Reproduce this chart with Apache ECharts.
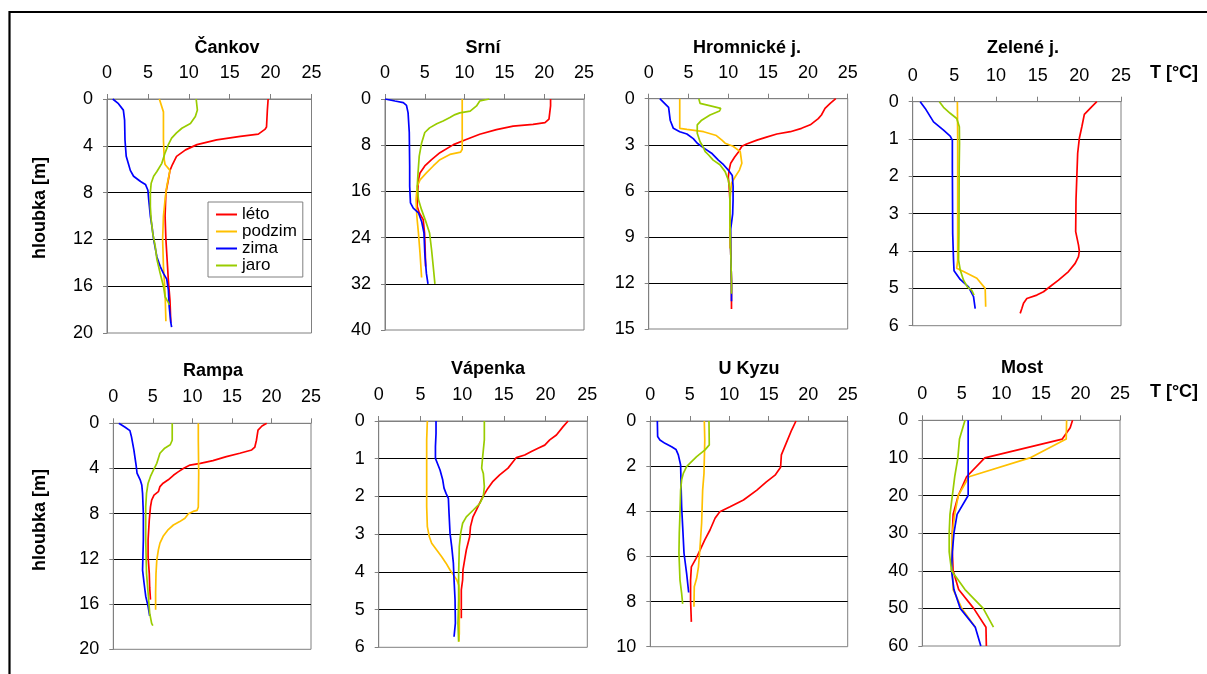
<!DOCTYPE html>
<html>
<head>
<meta charset="utf-8">
<script src="https://cdn.jsdelivr.net/npm/echarts@6/dist/echarts.min.js"></script>
<style>
html,body{margin:0;padding:0;background:#fff;}
#main{width:1207px;height:674px;}
</style>
</head>
<body>
<div id="main"></div>
<script>
// ---------- DATA ----------
const seasons = ['léto', 'podzim', 'zima', 'jaro'];
const lakes = ['Čankov', 'Srní', 'Hromnické j.', 'Zelené j.', 'Rampa', 'Vápenka', 'U Kyzu', 'Most'];
const tempTicks = [0, 5, 10, 15, 20, 25];
const depthMax = [20, 40, 15, 6, 20, 6, 10, 60];
const depthStep = [4, 8, 3, 1, 4, 1, 2, 10];
const xAxisName = 'T [°C]';
const yAxisName = 'hloubka [m]';

// each point: [temperature °C, depth m]
const cankov_leto = [[19.7,0],[19.6,1],[19.5,2.4],[19.3,2.6],[18.5,3.0],[16.3,3.2],[13.4,3.5],[11.0,3.9],[9.6,4.35],[8.5,4.9],[8.0,5.6],[7.7,6.1],[7.5,6.9],[7.2,8.0],[7.1,10.0],[7.2,12.0],[7.4,14.3],[7.5,15.5],[7.7,17.2],[7.8,19.1]];
const cankov_podzim = [[6.4,0],[6.9,1.1],[6.9,3.5],[7.0,5.2],[7.1,5.6],[7.7,6.1],[7.3,7.5],[7.1,8.6],[6.9,10.0],[6.8,12.0],[6.9,14.3],[7.1,16.6],[7.2,19.0]];
const cankov_zima = [[0.7,0],[1.4,0.4],[2.0,0.95],[2.15,1.8],[2.2,3.5],[2.35,4.9],[2.6,5.5],[2.85,6.1],[3.25,6.6],[4.1,7.05],[4.7,7.3],[5.0,7.8],[5.1,8.6],[5.3,10.0],[5.5,10.9],[5.7,12.0],[6.1,13.5],[6.5,14.3],[6.9,14.9],[7.3,15.4],[7.5,16.3],[7.6,17.7],[7.8,19.1],[7.9,19.5]];
const cankov_jaro = [[10.9,0],[11.05,0.95],[10.8,1.5],[10.2,2.1],[9.15,2.5],[8.5,2.9],[7.9,3.35],[7.5,3.9],[7.1,4.6],[6.7,5.5],[6.1,6.2],[5.7,6.6],[5.4,7.2],[5.3,8.0],[5.3,9.2],[5.4,10.3],[5.6,11.5],[5.9,12.6],[6.1,13.7],[6.5,14.9],[6.9,16.0],[7.1,16.9],[7.5,17.4],[7.6,17.6]];

const srni_leto = [[20.8,0],[20.8,1.2],[20.6,3.5],[20.1,4.1],[18.6,4.4],[16.1,4.7],[14.0,5.3],[11.9,6.1],[10.2,7.0],[8.6,7.9],[6.9,9.3],[5.85,10.5],[5.0,11.6],[4.4,12.8],[4.2,14.0],[4.05,17.4],[4.05,18.6],[4.3,19.7],[4.8,20.9],[4.97,23.2],[5.06,26.7],[5.1,29.0]];
const srni_podzim = [[9.7,0],[9.7,8.7],[9.5,9.2],[8.15,9.6],[6.9,10.5],[6.06,11.6],[5.2,12.8],[4.4,14.0],[4.05,15.1],[3.9,17.4],[4.0,20.3],[4.2,23.2],[4.4,26.7],[4.6,30.9]];
const srni_zima = [[0,0],[1.25,0.35],[2.3,0.64],[2.7,1.1],[2.9,2.4],[3.05,5.8],[3.1,11.6],[3.1,15.1],[3.2,18.0],[3.55,18.9],[4.2,19.7],[4.6,21.2],[4.9,23.2],[5.0,26.7],[5.2,30.2],[5.4,32.0]];
const srni_jaro = [[13.1,0],[11.9,0.35],[11.5,1.2],[10.7,2.1],[9.4,2.4],[8.8,2.7],[8.15,3.2],[7.3,3.8],[6.5,4.3],[5.6,5.0],[5.0,5.8],[4.6,7.6],[4.3,9.9],[4.15,12.8],[4.05,15.1],[4.2,17.4],[4.6,19.2],[5.2,21.5],[5.6,23.2],[5.85,26.1],[6.06,29.0],[6.27,32.0]];

const hrom_leto = [[23.5,0],[22.8,0.3],[22.15,0.63],[21.7,1.06],[21.3,1.3],[20.3,1.7],[19.2,1.93],[17.8,2.15],[16.1,2.3],[14.8,2.5],[13.6,2.7],[12.3,2.95],[11.7,3.1],[11.3,3.45],[10.8,3.8],[10.3,4.2],[10.1,4.65],[10.0,5.1],[10.1,5.7],[10.2,6.6],[10.2,7.7],[10.3,9.85],[10.4,12.0],[10.4,13.7]];
const hrom_podzim = [[3.9,0],[3.9,1.93],[4.8,2.0],[6.9,2.15],[8.5,2.4],[9.2,2.7],[9.6,2.9],[10.6,3.1],[11.5,3.45],[11.7,4.2],[11.4,4.65],[10.85,5.1],[10.4,5.5],[10.2,6.6],[10.2,8.8],[10.2,9.75]];
const hrom_zima = [[1.4,0],[2.5,0.56],[2.7,1.4],[3.1,1.93],[3.9,2.15],[4.8,2.3],[5.6,2.6],[6.1,2.9],[6.9,3.2],[7.9,3.55],[8.75,4.0],[9.4,4.3],[10.0,4.65],[10.5,5.0],[10.6,5.7],[10.6,6.6],[10.55,7.5],[10.3,8.5],[10.3,9.85],[10.4,12.0],[10.4,13.2]];
const hrom_jaro = [[6.3,0],[6.45,0.3],[7.9,0.48],[9.05,0.63],[8.9,0.8],[7.7,1.06],[6.65,1.4],[6.1,1.7],[6.1,2.25],[6.45,2.8],[6.8,3.1],[7.1,3.45],[7.5,3.65],[8.1,4.0],[8.95,4.3],[9.6,4.75],[10.0,5.3],[10.2,5.9],[10.2,7.7],[10.3,9.85],[10.4,12.0],[10.4,12.7]];

const zel_leto = [[22.1,0],[21.5,0.13],[20.6,0.34],[20.3,0.67],[20.0,0.98],[19.8,1.38],[19.7,2.0],[19.6,2.63],[19.56,3.48],[19.9,3.84],[20.0,4.0],[19.9,4.15],[19.5,4.33],[18.7,4.55],[17.5,4.78],[16.5,4.95],[15.7,5.09],[14.9,5.18],[13.7,5.27],[13.3,5.4],[13.1,5.54],[12.9,5.67]];
const zel_podzim = [[5.36,0],[5.4,1.0],[5.4,2.5],[5.4,4.24],[5.28,4.46],[6.1,4.55],[7.7,4.73],[8.7,5.0],[8.76,5.49]];
const zel_zima = [[0.9,0],[1.5,0.18],[2.5,0.54],[3.7,0.76],[4.5,0.92],[4.76,1.03],[4.76,1.74],[4.8,3.53],[4.9,4.24],[4.96,4.53],[5.7,4.76],[6.7,4.96],[7.3,5.22],[7.5,5.54]];
const zel_jaro = [[3.2,0],[3.7,0.15],[4.5,0.31],[5.28,0.45],[5.6,0.67],[5.62,1.12],[5.58,1.74],[5.55,3.53],[5.5,4.24],[5.7,4.5],[6.1,4.78],[6.56,4.96],[7.1,5.06],[7.36,5.18]];

const rampa_leto = [[19.4,0],[18.8,0.24],[18.3,0.6],[18.1,1.5],[17.9,2.1],[17.5,2.36],[16.0,2.65],[14.3,2.95],[12.6,3.3],[11.0,3.54],[9.7,3.7],[8.85,4.0],[8.2,4.3],[7.6,4.6],[6.95,5.0],[6.3,5.3],[5.9,5.6],[5.7,6.05],[5.15,6.35],[4.85,6.8],[4.7,7.4],[4.55,8.55],[4.4,10.3],[4.4,11.8],[4.55,13.3],[4.6,14.5],[4.7,15.6]];
const rampa_podzim = [[10.75,0],[10.75,1.5],[10.8,4.4],[10.75,7.4],[10.6,7.7],[10.1,7.8],[9.5,8.0],[9.06,8.4],[8.4,8.7],[7.6,9.0],[6.95,9.4],[6.3,10.0],[5.9,10.6],[5.7,11.2],[5.5,12.1],[5.4,13.3],[5.35,15.0],[5.35,16.5]];
const rampa_zima = [[0.7,0],[1.5,0.35],[2.1,0.65],[2.3,1.2],[2.6,2.36],[2.9,3.8],[3.0,4.4],[3.4,5.0],[3.6,5.45],[3.7,6.2],[3.8,8.0],[3.8,10.3],[3.7,13.0],[3.9,14.2],[4.1,15.3],[4.4,16.2],[4.6,17.05]];
const rampa_jaro = [[7.45,0],[7.45,1.5],[7.2,1.9],[6.5,2.2],[5.9,2.65],[5.5,3.54],[5.1,4.1],[4.7,4.7],[4.4,5.3],[4.2,6.2],[4.1,7.4],[4.1,10.3],[4.2,13.3],[4.4,15.0],[4.6,16.8],[4.85,17.7],[5.0,17.9]];

const vap_leto = [[22.7,0],[22.1,0.15],[21.3,0.37],[20.5,0.5],[19.9,0.64],[19.1,0.72],[18.3,0.81],[17.5,0.9],[16.5,0.97],[16.1,1.08],[15.5,1.25],[14.5,1.43],[13.7,1.6],[13.1,1.78],[12.5,2.0],[12.1,2.18],[11.7,2.36],[11.3,2.54],[11.0,2.8],[10.9,3.07],[10.5,3.42],[10.3,3.68],[10.1,3.95],[10.06,4.21],[9.9,4.48],[9.9,4.83],[9.9,5.23]];
const vap_podzim = [[5.83,0],[5.75,0.5],[5.75,1.39],[5.75,2.27],[5.83,2.8],[6.07,3.07],[6.35,3.24],[6.95,3.42],[7.55,3.6],[8.07,3.77],[8.55,3.95],[8.95,4.08],[9.35,4.21],[9.6,4.35],[9.66,4.92],[9.66,5.63],[9.6,5.85]];
const vap_zima = [[6.87,0],[6.87,0.33],[6.8,0.68],[6.8,0.99],[7.03,1.12],[7.35,1.3],[7.67,1.56],[7.83,1.78],[8.07,1.92],[8.35,2.05],[8.43,2.45],[8.55,2.98],[8.75,3.33],[8.95,3.77],[9.03,4.21],[9.15,4.74],[9.19,5.36],[9.03,5.72]];
const vap_jaro = [[12.66,0],[12.66,0.5],[12.46,0.95],[12.34,1.25],[12.54,1.39],[12.66,1.74],[12.54,2.0],[12.14,2.18],[11.34,2.36],[10.5,2.54],[10.06,2.71],[9.82,2.98],[9.66,3.33],[9.58,4.04],[9.58,4.74],[9.5,5.36],[9.58,5.85]];

const kyzu_leto = [[18.45,0],[17.9,0.4],[17.2,0.99],[16.6,1.5],[16.5,2.05],[15.8,2.4],[14.7,2.7],[13.5,3.06],[11.8,3.5],[10.1,3.8],[8.8,4.02],[8.2,4.31],[7.56,4.83],[6.9,5.27],[6.3,5.72],[5.8,6.09],[5.2,6.46],[5.1,7.05],[5.1,7.93],[5.2,8.9]];
const kyzu_podzim = [[6.84,0],[6.9,0.84],[6.8,2.32],[6.63,3.06],[6.5,4.53],[6.3,5.57],[6.1,6.46],[5.87,6.97],[5.57,7.34],[5.53,8.23]];
const kyzu_zima = [[0.89,0],[0.93,0.69],[1.22,0.84],[1.86,0.99],[2.7,1.14],[3.25,1.26],[3.55,1.5],[3.84,1.95],[3.9,2.9],[3.97,3.8],[4.1,4.68],[4.27,5.86],[4.6,6.75],[4.86,7.6]];
const kyzu_jaro = [[7.43,0],[7.47,1.06],[6.93,1.28],[5.87,1.58],[5.0,1.88],[4.6,2.02],[4.18,2.32],[3.97,2.61],[3.84,3.06],[3.76,4.09],[3.67,4.98],[3.63,5.86],[3.76,7.05],[3.97,7.64],[4.1,8.1]];

const most_leto = [[19.0,0],[18.7,2],[17.7,5],[7.9,10],[5.6,15],[4.55,20],[3.9,25],[3.8,30],[3.8,35],[3.9,40],[4.6,45],[6.5,50],[8.05,55],[8.1,60]];
const most_podzim = [[18.25,0],[18.2,5],[13.6,10],[5.9,15],[4.55,20],[4.1,25],[3.8,30],[3.7,35],[3.8,40],[3.9,45],[5.0,50],[6.7,55]];
const most_zima = [[5.8,0],[5.8,5],[5.8,10],[5.8,15],[5.8,20],[4.4,25],[4.0,30],[3.8,35],[3.7,40],[4.0,45],[4.8,50],[6.7,55],[7.4,60]];
const most_jaro = [[5.4,0],[4.7,5],[4.5,10],[4.1,15],[3.8,20],[3.5,25],[3.4,30],[3.4,35],[3.7,40],[5.4,45],[7.7,50],[9.0,55]];

const profiles = [
  [cankov_leto, cankov_podzim, cankov_zima, cankov_jaro],
  [srni_leto, srni_podzim, srni_zima, srni_jaro],
  [hrom_leto, hrom_podzim, hrom_zima, hrom_jaro],
  [zel_leto, zel_podzim, zel_zima, zel_jaro],
  [rampa_leto, rampa_podzim, rampa_zima, rampa_jaro],
  [vap_leto, vap_podzim, vap_zima, vap_jaro],
  [kyzu_leto, kyzu_podzim, kyzu_zima, kyzu_jaro],
  [most_leto, most_podzim, most_zima, most_jaro]
];

// ---------- STYLE / LAYOUT ----------
const seasonColors = ['#FF0000', '#FFC000', '#0000FF', '#99CC00'];
const gridRects = [
  {left:107, top:99, width:204.5, height:234},
  {left:385, top:99, width:199, height:231},
  {left:648.7, top:98.7, width:199, height:230.3},
  {left:912.7, top:101.7, width:208.3, height:224},
  {left:113.3, top:423.3, width:197.7, height:226},
  {left:378.7, top:421, width:208.6, height:226.3},
  {left:650.3, top:421, width:197.4, height:225.7},
  {left:922.3, top:420.3, width:197.7, height:225.7}
];
const titlePos = [[227,48],[483,48],[747,48],[1023,48],[213,371],[488,369],[749,369],[1022,368]];
const FONT = 'Liberation Sans, Arial, sans-serif';
const AX = '#808080';

const grids = [], xAxes = [], yAxes = [], series = [], graphics = [];
lakes.forEach(function (lake, i) {
  const r = gridRects[i];
  grids.push({left:r.left, top:r.top, width:r.width, height:r.height, containLabel:false, outerBoundsMode:'none',
    show:true, borderColor:AX, borderWidth:1, backgroundColor:'transparent'});
  xAxes.push({type:'value', gridIndex:i, position:'top', min:tempTicks[0], max:tempTicks[tempTicks.length-1], interval:tempTicks[1]-tempTicks[0],
    axisLine:{show:true, onZero:false, lineStyle:{color:AX, width:1}},
    axisTick:{show:true, inside:false, length:5, lineStyle:{color:AX}},
    axisLabel:{show:true, margin:17, color:'#000', fontSize:18, fontFamily:FONT, showMinLabel:true, showMaxLabel:true},
    splitLine:{show:false}});
  yAxes.push({type:'value', gridIndex:i, inverse:true, min:0, max:depthMax[i], interval:depthStep[i],
    axisLine:{show:true, onZero:false, lineStyle:{color:AX, width:1}},
    axisTick:{show:true, inside:false, length:4, lineStyle:{color:AX}},
    axisLabel:{show:true, margin:14, color:'#000', fontSize:18, fontFamily:FONT, showMinLabel:true, showMaxLabel:true},
    splitLine:{show:true, showMinLine:false, showMaxLine:false, lineStyle:{color:'#000', width:1}}});
  seasons.forEach(function (s, k) {
    series.push({type:'line', name:s, xAxisIndex:i, yAxisIndex:i, data:profiles[i][k],
      symbol:'none', showSymbol:false, smooth:false, silent:true, animation:false,
      color:seasonColors[k], lineStyle:{color:seasonColors[k], width:1.7}});
  });
  graphics.push({type:'text', x:titlePos[i][0], y:titlePos[i][1], silent:true,
    style:{text:lake, fontSize:18, fontWeight:'bold', fontFamily:FONT, fill:'#000', align:'center', verticalAlign:'middle'}});
});

graphics.push({type:'rect', shape:{x:9.5, y:12, width:1400, height:900}, silent:true, z:100,
  style:{fill:null, stroke:'#000', lineWidth:2.2}});
graphics.push({type:'text', x:1174, y:73, silent:true, style:{text:xAxisName, fontSize:18, fontWeight:'bold', fontFamily:FONT, fill:'#000', align:'center', verticalAlign:'middle'}});
graphics.push({type:'text', x:1174, y:392, silent:true, style:{text:xAxisName, fontSize:18, fontWeight:'bold', fontFamily:FONT, fill:'#000', align:'center', verticalAlign:'middle'}});
graphics.push({type:'text', x:40, y:208, rotation:Math.PI/2, silent:true, style:{text:yAxisName, fontSize:18, fontWeight:'bold', fontFamily:FONT, fill:'#000', align:'center', verticalAlign:'middle'}});
graphics.push({type:'text', x:40, y:520, rotation:Math.PI/2, silent:true, style:{text:yAxisName, fontSize:18, fontWeight:'bold', fontFamily:FONT, fill:'#000', align:'center', verticalAlign:'middle'}});

const chart = echarts.init(document.getElementById('main'), null, {renderer:'canvas', width:1207, height:674});
chart.setOption({
  animation:false,
  backgroundColor:'#fff',
  textStyle:{fontFamily:FONT},
  grid:grids, xAxis:xAxes, yAxis:yAxes, series:series,
  legend:{show:true, data:seasons, orient:'vertical', left:208, top:202, padding:[4,6,3,8], itemGap:0,
    icon:'rect', itemWidth:21, itemHeight:2, backgroundColor:'#fff', borderColor:'#808080', borderWidth:1, borderRadius:0,
    selectedMode:false, z:50,
    textStyle:{fontSize:17, fontFamily:FONT, color:'#000', lineHeight:17}},
  graphic:graphics
});
</script>
</body>
</html>
